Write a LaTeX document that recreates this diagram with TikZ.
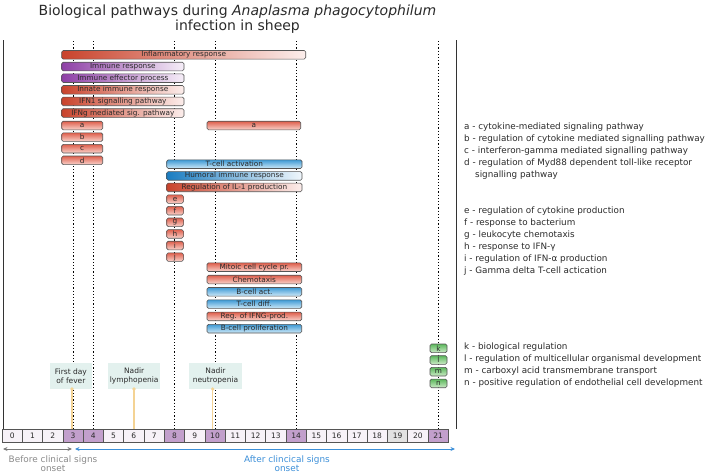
\documentclass[tikz,border=0pt]{standalone}
\usepackage{fontspec}
\setmainfont{DejaVu Sans}
\usetikzlibrary{arrows.meta}
\definecolor{bordc}{HTML}{555555}
\definecolor{txtc}{HTML}{2A2A2A}
\definecolor{redD}{HTML}{C9432C}
\definecolor{redL}{HTML}{FCEEEC}
\definecolor{purD}{HTML}{8E3FA6}
\definecolor{purL}{HTML}{F6EEF8}
\definecolor{bluD}{HTML}{1B7DC1}
\definecolor{bluL}{HTML}{F0F7FC}
\definecolor{redT}{HTML}{DE5F4C}
\definecolor{redB}{HTML}{F9D3CC}
\definecolor{bluT}{HTML}{3F9AD5}
\definecolor{bluB}{HTML}{CFE9F7}
\definecolor{grnT}{HTML}{5CB85C}
\definecolor{grnB}{HTML}{CDEBC8}
\definecolor{cellw}{HTML}{F7F2F8}
\definecolor{cellp}{HTML}{C29FCC}
\definecolor{cellg}{HTML}{E2E2E2}
\definecolor{evfill}{HTML}{E3F1EE}
\definecolor{ylw}{HTML}{F4D394}
\definecolor{grayA}{HTML}{7A7A7A}
\definecolor{grayT}{HTML}{8A8A8A}
\definecolor{bluA}{HTML}{3C8FD8}
\begin{document}
\begin{tikzpicture}[x=1pt,y=-1pt,
  hbar/.style={draw=bordc, line width=0.6pt, rounded corners=1.5pt, minimum height=8.6pt, inner sep=0pt, font=\fontsize{7.3}{8}\selectfont, text=txtc},
  redH/.style={hbar, left color=redD, right color=redL},
  purH/.style={hbar, left color=purD, right color=purL},
  bluH/.style={hbar, left color=bluD, right color=bluL},
  redV/.style={hbar, top color=redT, bottom color=redB},
  bluV/.style={hbar, top color=bluT, bottom color=bluB},
  grnV/.style={hbar, top color=grnT, bottom color=grnB},
  cell/.style={draw=bordc, line width=0.6pt, minimum width=20.28pt, minimum height=13pt, inner sep=0pt, font=\fontsize{7.5}{8}\selectfont, text=txtc},
  dotline/.style={black, line width=0.8pt, dash pattern=on 1.2pt off 2pt},
  frameline/.style={draw=black!80, line width=0.8pt},
  legend/.style={anchor=west, inner sep=0pt, font=\fontsize{8.8}{10}\selectfont, text=txtc},
  evbox/.style={fill=evfill, inner sep=0pt, align=center, font=\fontsize{7.5}{9}\selectfont, text=txtc},
  yline/.style={draw=ylw, line width=1.3pt},
  ydot/.style={circle, fill=ylw, inner sep=0pt, minimum size=3.6pt}
]
\useasboundingbox (0,0) rectangle (707,474);

% title
\node[align=center, font=\fontsize{14}{15}\selectfont, text=txtc] (title) at (237.5,19)
  {Biological pathways during \textit{Anaplasma phagocytophilum}\\infection in sheep};

% timeline cells
\foreach \d/\f in {0/cellw,1/cellw,2/cellw,3/cellp,4/cellp,5/cellw,6/cellw,7/cellw,8/cellp,9/cellw,10/cellp,11/cellw,12/cellw,13/cellw,14/cellp,15/cellw,16/cellw,17/cellw,18/cellw,19/cellg,20/cellw,21/cellp}
  \node[cell, fill=\f] (c\d) at ({12.2+20.28*\d},435.5) {\d};

% frame
\coordinate (fl1) at (3,40);
\coordinate (fl2) at (3,428.5);
\coordinate (fr1) at (456,40);
\coordinate (fr2) at (456,428.5);
\draw[frameline] (fl1) -- (fl2);
\draw[frameline] (fr1) -- (fr2);

% dotted day lines
\foreach \d in {3,4,8,10,14,21} {
  \coordinate (t\d) at ({12.2+20.28*\d},41);
  \draw[dotline] (t\d) -- (c\d.north);
}

% bars
\node[redH, minimum width=244pt] (infl) at (183.7,54.8) {Inflammatory response};
\node[purH, minimum width=122.3pt] (immresp) at (122.85,66.5) {Immune response};
\node[purH, minimum width=122.3pt] (effector) at (122.85,78.2) {Immune effector process};
\node[redH, minimum width=122.3pt] (innate) at (122.85,89.8) {Innate immune response};
\node[redH, minimum width=122.3pt] (ifn1) at (122.85,101.4) {IFN1 signalling pathway};
\node[redH, minimum width=122.3pt] (ifng) at (122.85,113) {IFNg mediated sig. pathway};
\node[redV, minimum width=41pt] (a1) at (82.2,125.5) {a};
\node[redV, minimum width=41pt] (b1) at (82.2,137.1) {b};
\node[redV, minimum width=41pt] (c1) at (82.2,148.7) {c};
\node[redV, minimum width=41pt] (d1) at (82.2,160.3) {d};
\node[redV, minimum width=93.7pt] (a2) at (253.85,125.5) {a};
\node[bluV, minimum width=135.3pt] (tact) at (234.35,164.2) {T-cell activation};
\node[bluH, minimum width=135.3pt] (humoral) at (234.35,175.9) {Humoral immune response};
\node[redH, minimum width=135.3pt] (regil) at (234.35,187.4) {Regulation of IL-1 production};
\node[redV, minimum width=16.6pt] (e1) at (175,199.1) {e};
\node[redV, minimum width=16.6pt] (f1) at (175,210.7) {f};
\node[redV, minimum width=16.6pt] (g1) at (175,222.3) {g};
\node[redV, minimum width=16.6pt] (h1) at (175,233.9) {h};
\node[redV, minimum width=16.6pt] (i1) at (175,245.5) {i};
\node[redV, minimum width=16.6pt] (j1) at (175,257.1) {j};
\node[redV, minimum width=94.7pt] (mitoic) at (254.35,267.2) {Mitoic cell cycle pr.};
\node[redV, minimum width=94.7pt] (chemo) at (254.35,279.5) {Chemotaxis};
\node[bluV, minimum width=94.7pt] (bact) at (254.35,291.8) {B-cell act.};
\node[bluV, minimum width=94.7pt] (tdiff) at (254.35,304.1) {T-cell diff.};
\node[redV, minimum width=94.7pt] (regifng) at (254.35,316.4) {Reg. of IFNG-prod.};
\node[bluV, minimum width=94.7pt] (bprol) at (254.35,328.7) {B-cell proliferation};
\node[grnV, minimum width=17pt] (k1) at (438.5,348.3) {k};
\node[grnV, minimum width=17pt] (l1) at (438.5,360) {l};
\node[grnV, minimum width=17pt] (m1) at (438.5,371.7) {m};
\node[grnV, minimum width=17pt] (n1) at (438.5,383.4) {n};

% legend
\node[legend] (lga) at (464,127) {a - cytokine-mediated signaling pathway};
\node[legend] (lgb) at (464,139) {b - regulation of cytokine mediated signalling pathway};
\node[legend] (lgc) at (464,151) {c - interferon-gamma mediated signalling pathway};
\node[legend] (lgd) at (464,163) {d - regulation of Myd88 dependent toll-like receptor};
\node[legend] (lgd2) at (475,175) {signalling pathway};
\node[legend] (lge) at (464,211) {e - regulation of cytokine production};
\node[legend] (lgf) at (464,223) {f - response to bacterium};
\node[legend] (lgg) at (464,235) {g - leukocyte chemotaxis};
\node[legend] (lgh) at (464,247) {h - response to IFN-γ};
\node[legend] (lgi) at (464,259) {i - regulation of IFN-α production};
\node[legend] (lgj) at (464,271) {j - Gamma delta T-cell actication};
\node[legend] (lgk) at (464,347.5) {k - biological regulation};
\node[legend] (lgl) at (464,359.5) {l - regulation of multicellular organismal development};
\node[legend] (lgm) at (464,371.5) {m - carboxyl acid transmembrane transport};
\node[legend] (lgn) at (464,383.5) {n - positive regulation of endothelial cell development};

% events
\node[evbox, minimum width=41.7pt, minimum height=26pt] (fever) at (70.9,376.3) {First day\\of fever};
\node[evbox, minimum width=51.7pt, minimum height=26pt] (lympho) at (134.2,376.3) {Nadir\\lymphopenia};
\node[evbox, minimum width=52.4pt, minimum height=26pt] (neutro) at (215.5,376.3) {Nadir\\neutropenia};
\coordinate (yf) at (72,389);
\coordinate (yl) at (134,389);
\coordinate (yn) at (212.7,389);
\draw[yline] (yf) -- (yf |- c3.north);
\draw[yline] (yl) -- (yl |- c6.north);
\draw[yline] (yn) -- (yn |- c10.north);
\node[ydot] (df) at (yf) {};
\node[ydot] (dl) at (yl) {};
\node[ydot] (dn) at (yn) {};

% bottom arrows
\coordinate (ga) at (3,449);
\coordinate (gb) at (72,449);
\coordinate (ba) at (75,449);
\coordinate (bb) at (455,449);
\draw[grayA, line width=0.9pt, {Stealth[length=4.5pt,width=4pt]}-{Stealth[length=4.5pt,width=4pt]}] (ga) -- (gb);
\draw[bluA, line width=0.9pt, {Stealth[length=4.5pt,width=4pt]}-{Stealth[length=4.5pt,width=4pt]}] (ba) -- (bb);
\node[align=center, font=\fontsize{8.9}{9.5}\selectfont, text=grayT] (before) at (53,463.5) {Before clinical signs\\onset};
\node[align=center, font=\fontsize{8.9}{9.5}\selectfont, text=bluA] (after) at (287,463.5) {After clincical signs\\onset};
\end{tikzpicture}
\end{document}
